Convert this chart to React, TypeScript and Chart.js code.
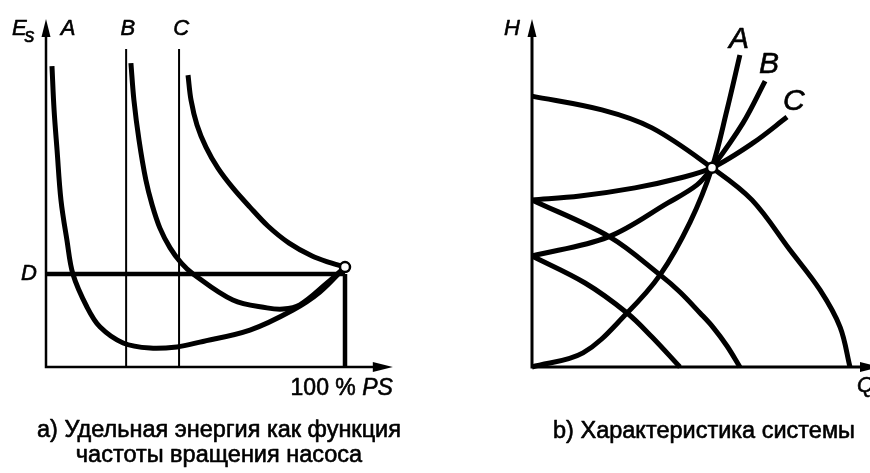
import React, { useEffect, useRef } from "react";
import { Chart, registerables } from "chart.js";

Chart.register(...registerables);

// ---------- Panel a): specific energy Es vs pump speed (% PS) ----------
const aCurveA_x = [2.0, 2.7, 3.7, 5.0, 7.0, 9.0, 13.7, 18.1, 25.8, 34.8, 43.8, 51.5, 68.2, 82.6, 91.6, 100];
const aCurveA_y = [100.3, 85.7, 72.3, 55.7, 42.3, 31, 20, 13.3, 8, 6.3, 6.7, 8.3, 12.3, 19, 25, 33.3];

const aCurveB_x = [28.4, 29.4, 31.1, 33.4, 35.5, 38.1, 41.5, 45.2, 49.2, 62.5, 73.9, 79.3, 84.9, 94, 100];
const aCurveB_y = [101.3, 89, 75.7, 62.3, 54, 46.3, 39.7, 34.7, 31, 22.3, 19.7, 19.3, 20.7, 28, 33.3];

const aCurveC_x = [47.5, 48.5, 50.5, 53.5, 57.5, 62.5, 68.2, 74.2, 81.3, 89, 95.3, 100];
const aCurveC_y = [97.3, 89, 80.7, 73.3, 66.3, 59.7, 53.3, 47, 41.3, 37, 34.7, 33.3];

const aMinSpeedB = 26.8; // vertical line B (% PS)
const aMinSpeedC = 44.5; // vertical line C (% PS)
const aLimitTop = 106;
const aLevelD = 31;
const aFullSpeed = 100;
const aOperating = { x: 100, y: 33.3 };

// ---------- Panel b): system characteristic H vs Q ----------
const bPump1_x = [0, 23.3, 40, 60, 73.3, 86, 96, 102.7, 106];
const bPump1_y = [90.3, 85.7, 79.7, 66.4, 55.7, 39, 25.7, 13.3, 0];

const bPump2_x = [0, 26, 42.7, 49.3, 56, 60.3, 65, 69.3];
const bPump2_y = [55.7, 43.3, 30.7, 25, 18, 13.3, 7, 0];

const bPump3_x = [0, 17.7, 31.7, 40, 49.3];
const bPump3_y = [37, 28, 18, 10, 0];

const bSystemA_x = [0, 17, 31.7, 42.7, 52.7, 60, 65, 69.3];
const bSystemA_y = [0, 4.7, 18, 30.7, 48.3, 66.4, 85.7, 104];

const bSystemB_x = [0, 25.3, 45.3, 55, 60, 70.3, 77.7];
const bSystemB_y = [37, 43.3, 54.7, 60.7, 66.4, 81.3, 95.3];

const bSystemC_x = [0, 16, 34.3, 49.3, 60, 73.7, 85];
const bSystemC_y = [55.7, 57, 59.7, 63, 66.4, 74.7, 83.3];

const bOperating = { x: 60, y: 66.4 };

const FONT = '"Liberation Sans", Arial, Helvetica, sans-serif';

function pts(xs: number[], ys: number[]) {
  return xs.map((x, i) => ({ x, y: ys[i] }));
}

function curve(xs: number[], ys: number[], width: number) {
  return {
    data: pts(xs, ys),
    showLine: true,
    borderColor: "#000",
    borderWidth: width,
    pointRadius: 0,
    tension: 0.35,
    fill: false,
    clip: false,
    borderCapStyle: "butt",
    borderJoinStyle: "round",
  };
}

function straight(xs: number[], ys: number[], width: number) {
  return {
    data: pts(xs, ys),
    showLine: true,
    borderColor: "#000",
    borderWidth: width,
    pointRadius: 0,
    tension: 0,
    fill: false,
    clip: false,
    borderCapStyle: "butt",
  };
}

function marker(p: { x: number; y: number }) {
  return {
    data: [p],
    showLine: false,
    pointRadius: 5,
    pointBackgroundColor: "#fff",
    pointBorderColor: "#000",
    pointBorderWidth: 2.5,
    clip: false,
  };
}

function axesPlugin(lineW: number) {
  return {
    id: "axes",
    beforeDatasetsDraw(chart: any) {
      const ctx = chart.ctx;
      const xs = chart.scales.x;
      const ys = chart.scales.y;
      const x0 = xs.getPixelForValue(0);
      const y0 = ys.getPixelForValue(0);
      const xTip = xs.getPixelForValue(xs.max);
      const yTip = ys.getPixelForValue(ys.max);
      ctx.save();
      ctx.strokeStyle = "#000";
      ctx.fillStyle = "#000";
      ctx.lineWidth = lineW;
      ctx.beginPath();
      ctx.moveTo(x0, y0 + lineW / 2);
      ctx.lineTo(x0, yTip + 16);
      ctx.moveTo(x0 - lineW / 2, y0);
      ctx.lineTo(xTip - 16, y0);
      ctx.stroke();
      ctx.beginPath();
      ctx.moveTo(x0, yTip);
      ctx.lineTo(x0 - 4.5, yTip + 18);
      ctx.lineTo(x0 + 4.5, yTip + 18);
      ctx.closePath();
      ctx.fill();
      ctx.beginPath();
      ctx.moveTo(xTip, y0);
      ctx.lineTo(xTip - 20, y0 - 5);
      ctx.lineTo(xTip - 20, y0 + 5);
      ctx.closePath();
      ctx.fill();
      ctx.restore();
    },
  };
}

function txt(ctx: any, s: string, x: number, y: number) {
  ctx.fillText(s, x, y);
  ctx.strokeText(s, x, y);
}

function prep(ctx: any) {
  ctx.fillStyle = "#000";
  ctx.strokeStyle = "#000";
  ctx.lineWidth = 0.6;
  ctx.lineJoin = "round";
}

const leftText = {
  id: "leftText",
  afterDraw(chart: any) {
    const ctx = chart.ctx;
    const X = (v: number) => chart.scales.x.getPixelForValue(v);
    const Y = (v: number) => chart.scales.y.getPixelForValue(v);
    ctx.save();
    prep(ctx);
    ctx.font = `italic 22px ${FONT}`;
    ctx.textAlign = "left";
    ctx.textBaseline = "alphabetic";
    const ex = X(-11.4);
    txt(ctx, "E", ex, Y(110.7));
    const ew = ctx.measureText("E").width;
    ctx.font = `italic 20px ${FONT}`;
    txt(ctx, "s", ex + ew - 2, Y(108.5));
    ctx.font = `italic 22px ${FONT}`;
    ctx.textAlign = "center";
    txt(ctx, "A", X(7.4), Y(110.7));
    txt(ctx, "B", X(27.4), Y(110.7));
    txt(ctx, "C", X(45.2), Y(110.7));
    ctx.textBaseline = "middle";
    txt(ctx, "D", X(-5.7), Y(aLevelD));
    ctx.textBaseline = "alphabetic";
    ctx.textAlign = "right";
    const rx = X(116);
    const by = Y(-9.3);
    ctx.font = `italic 23px ${FONT}`;
    txt(ctx, "PS", rx, by);
    const pw = ctx.measureText("PS").width;
    ctx.font = `23px ${FONT}`;
    txt(ctx, "100 % ", rx - pw, by);
    ctx.textAlign = "center";
    ctx.textBaseline = "middle";
    ctx.font = `23.5px ${FONT}`;
    txt(ctx, "а) Удельная энергия как функция", 219, 431);
    txt(ctx, "частоты вращения насоса", 219, 456);
    ctx.restore();
  },
};

const rightText = {
  id: "rightText",
  afterDraw(chart: any) {
    const ctx = chart.ctx;
    const X = (v: number) => chart.scales.x.getPixelForValue(v);
    const Y = (v: number) => chart.scales.y.getPixelForValue(v);
    ctx.save();
    prep(ctx);
    ctx.textAlign = "center";
    ctx.textBaseline = "alphabetic";
    ctx.font = `italic 22px ${FONT}`;
    txt(ctx, "H", X(-6.7), Y(110.7));
    ctx.textAlign = "left";
    txt(ctx, "Q", X(108.3), Y(-8.3));
    ctx.textAlign = "center";
    ctx.font = `italic 30px ${FONT}`;
    txt(ctx, "A", X(69), Y(106.3));
    txt(ctx, "B", X(79), Y(98));
    txt(ctx, "C", X(87.3), Y(85.7));
    ctx.textBaseline = "middle";
    ctx.font = `23.5px ${FONT}`;
    txt(ctx, "b) Характеристика системы", 269, 432);
    ctx.restore();
  },
};

function makeChart(canvas: HTMLCanvasElement, datasets: any[], padding: any, plugins: any[]) {
  return new Chart(canvas, {
    type: "scatter",
    data: { datasets },
    options: {
      animation: false,
      responsive: false,
      maintainAspectRatio: false,
      events: [],
      layout: { padding },
      scales: {
        x: { type: "linear", display: false, min: 0, max: 116 },
        y: { type: "linear", display: false, min: 0, max: 116 },
      },
      plugins: { legend: { display: false }, tooltip: { enabled: false } },
    } as any,
    plugins,
  } as any);
}

export default function App() {
  const leftRef = useRef<HTMLCanvasElement>(null);
  const rightRef = useRef<HTMLCanvasElement>(null);

  useEffect(() => {
    const left = makeChart(
      leftRef.current!,
      [
        marker(aOperating),
        curve(aCurveA_x, aCurveA_y, 5),
        curve(aCurveB_x, aCurveB_y, 5),
        curve(aCurveC_x, aCurveC_y, 5),
        straight([0, aFullSpeed], [aLevelD, aLevelD], 4.5),
        straight([aFullSpeed, aFullSpeed], [aLevelD, 0], 4.5),
        straight([aMinSpeedB, aMinSpeedB], [0, aLimitTop], 2),
        straight([aMinSpeedC, aMinSpeedC], [0, aLimitTop], 2),
      ],
      { left: 46, right: 435 - 46 - 116 * 2.99, top: 367 - 116 * 3, bottom: 473 - 367 },
      [axesPlugin(2.5), leftText]
    );
    const right = makeChart(
      rightRef.current!,
      [
        marker(bOperating),
        curve(bPump1_x, bPump1_y, 5),
        curve(bPump2_x, bPump2_y, 5),
        curve(bPump3_x, bPump3_y, 5),
        curve(bSystemA_x, bSystemA_y, 5),
        curve(bSystemB_x, bSystemB_y, 5),
        curve(bSystemC_x, bSystemC_y, 5),
      ],
      { left: 97, right: 455 - 97 - 116 * 3, top: 367 - 116 * 3, bottom: 473 - 367 },
      [axesPlugin(3), rightText]
    );
    return () => {
      left.destroy();
      right.destroy();
    };
  }, []);

  return (
    <div
      style={{
        position: "fixed",
        left: 0,
        top: 0,
        width: 870,
        height: 473,
        overflow: "hidden",
        background: "#fff",
      }}
    >
      <canvas ref={leftRef} width={435} height={473} style={{ position: "absolute", left: 0, top: 0, width: 435, height: 473 }} />
      <canvas ref={rightRef} width={455} height={473} style={{ position: "absolute", left: 435, top: 0, width: 455, height: 473 }} />
    </div>
  );
}
